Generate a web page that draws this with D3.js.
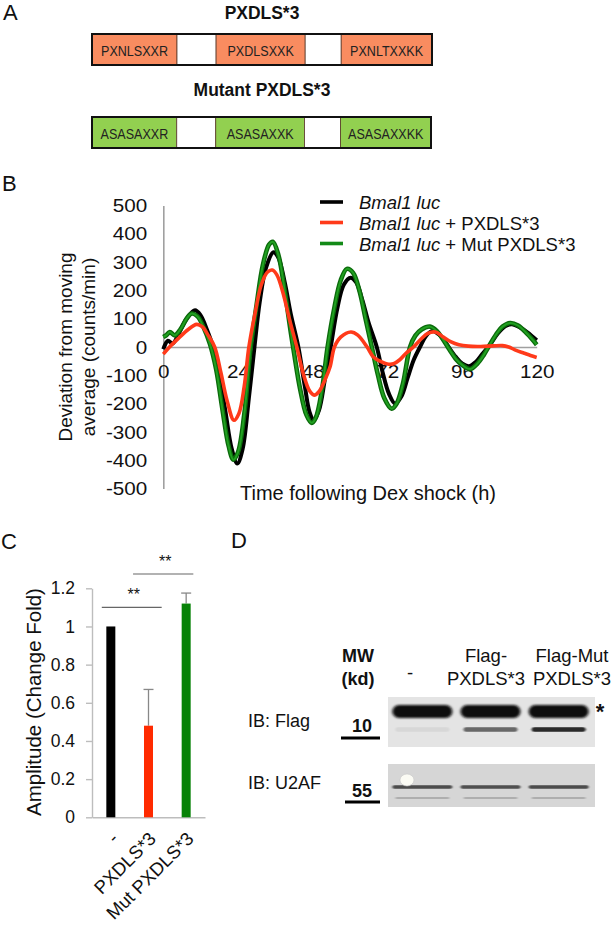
<!DOCTYPE html>
<html><head><meta charset="utf-8">
<script src="https://cdn.jsdelivr.net/npm/d3@7"></script>
<style>html,body{margin:0;padding:0;background:#fff;}svg{display:block;font-family:"Liberation Sans",Arial,sans-serif;}</style>
</head><body><svg id="c" width="612" height="927"></svg>
<script>
// ---------------- DATA ----------------
const constructTitles = ["PXDLS*3", "Mutant PXDLS*3"];
const wtSegments = ["PXNLSXXR", "", "PXDLSXXK", "", "PXNLTXXKK"];
const mutSegments = ["ASASAXXR", "", "ASASAXXK", "", "ASASAXXKK"];

const timeTicks = [0, 24, 48, 72, 96, 120];
const devTicks = [-500, -400, -300, -200, -100, 0, 100, 200, 300, 400, 500];
const seriesNames = ["Bmal1 luc", "Bmal1 luc + PXDLS*3", "Bmal1 luc + Mut PXDLS*3"];
const bmalSeries = [[0,-8],[1.5,22],[3,12],[5,48],[7.5,100],[10.2,130],[12,112],[14,62],[16,0],[18,-100],[20,-230],[22,-360],[23.8,-412],[25.5,-360],[27.5,-180],[29.3,0],[31,160],[33,280],[35.4,335],[37,315],[39,230],[41,115],[43.4,0],[45.5,-140],[47,-230],[48.3,-259],[50,-225],[52,-110],[53.8,0],[56,140],[58,220],[60.2,245],[62,228],[64,165],[66,85],[68.6,0],[70.5,-90],[72.5,-165],[74.5,-200],[76.5,-175],[78.5,-110],[80.5,-45],[82.5,0],[84.5,40],[86.5,57],[88.5,45],[90.5,20],[92,-5],[94,-35],[96,-58],[98.2,-68],[100.5,-52],[102.5,-25],[105,8],[107.5,48],[110,74],[112,80],[114.5,70],[117,52],[120,24]];
const pxdlsSeries = [[0,-25],[2,0],[5,32],[8,62],[10.7,80],[12.5,72],[14.5,40],[16.5,0],[18.5,-90],[20.5,-190],[22.7,-259],[24.3,-235],[26,-140],[27.5,0],[29.5,120],[31.5,220],[33.5,265],[35,272],[36.5,255],[38.5,190],[40.5,100],[42.9,0],[45,-95],[47,-155],[48.5,-170],[50,-158],[52,-115],[53.6,-70],[55,0],[57,35],[60.3,53],[62.5,42],[65.5,0],[67.5,-35],[70,-52],[72,-60],[74,-59],[76,-45],[78,-22],[80.4,0],[83,30],[85,48],[87.4,53],[90,35],[92.5,18],[95,8],[98,3],[102,2],[106,4],[109,5],[111,0],[113,-10],[116,-22],[118,-30],[120,-37]];
const mutSeries = [[0,35],[1,42],[2.1,53],[3.7,41],[5.5,62],[7.5,100],[9.1,118],[11,108],[13,68],[15,10],[17,-80],[19,-220],[21,-350],[22.5,-398],[24,-372],[26,-240],[28,-10],[30,150],[32,290],[34,362],[35.2,372],[37,325],[39,200],[41,50],[42,-20],[44,-150],[46,-240],[47.7,-268],[49,-250],[51,-150],[52.8,0],[55,140],[57,235],[59,276],[61,262],[63,200],[65,100],[67,0],[69,-100],[71,-180],[73.4,-218],[75,-200],[77,-130],[79.3,0],[81,40],[83,62],[85.7,72],[88,55],[90,25],[92,-10],[94,-42],[96,-63],[98.6,-78],[101,-58],[103,-28],[104.5,0],[107,45],[109,72],[111.5,85],[114,76],[117,46],[120,8]];

const ampCategories = ["-", "PXDLS*3", "Mut PXDLS*3"];
const ampValues = [1.0, 0.48, 1.12];
const ampErrors = [0, 0.19, 0.055];
const ampTicks = [0, 0.2, 0.4, 0.6, 0.8, 1, 1.2];
const sigPairs = [[0, 1], [1, 2]];
const sigLabels = ["**", "**"];
const sigLevels = [1.1, 1.275];

const laneLabels = [["-"], ["Flag-", "PXDLS*3"], ["Flag-Mut", "PXDLS*3"]];
const blotLabels = ["IB: Flag", "IB: U2AF"];
const mwMarkers = ["10", "55"];
const flagMainBand = [1, 1, 1];
const flagLowerBand = [0.06, 0.6, 0.9];
const u2afMainBand = [0.8, 0.78, 0.8];
const u2afFaintBand = [0.3, 0.3, 0.3];

// ---------------- HELPERS ----------------
const svg = d3.select("#c");
svg.append("rect").attr("width", 612).attr("height", 927).attr("fill", "#fff");
function stretch(sel, k) {
  sel.each(function () {
    const w = this.getComputedTextLength();
    d3.select(this).attr("textLength", w * k).attr("lengthAdjust", "spacingAndGlyphs");
  });
}
function panelLetter(t, x, y) {
  svg.append("text").attr("x", x).attr("y", y).attr("font-size", 22).attr("fill", "#111").text(t);
}

// ---------------- PANEL A ----------------
panelLetter("A", 3, 20);
const segFrac = [0, 0.25, 0.365, 0.627, 0.733, 1];
const boxes = [
  { title: constructTitles[0], segs: wtSegments, fill: "#F98C60", ty: 13, y0: 34, y1: 65, x0: 92, x1: 432 },
  { title: constructTitles[1], segs: mutSegments, fill: "#92D050", ty: 90, y0: 117, y1: 148, x0: 92, x1: 431 }
];
boxes.forEach(b => {
  const sx = d3.scaleLinear().domain([0, 1]).range([b.x0, b.x1]);
  const tt = svg.append("text").attr("x", 262).attr("y", b.ty).attr("text-anchor", "middle")
    .attr("dominant-baseline", "central").attr("font-weight", "bold").attr("font-size", 18)
    .attr("fill", "#111").text(b.title);
  stretch(tt, 0.97);
  const g = svg.append("g");
  b.segs.forEach((s, i) => {
    g.append("rect").attr("x", sx(segFrac[i])).attr("y", b.y0)
      .attr("width", sx(segFrac[i + 1]) - sx(segFrac[i])).attr("height", b.y1 - b.y0)
      .attr("fill", s ? b.fill : "#fff").attr("stroke", "#5a3a2a").attr("stroke-width", 0.8);
    if (s) {
      const t = g.append("text").attr("x", (sx(segFrac[i]) + sx(segFrac[i + 1])) / 2)
        .attr("y", (b.y0 + b.y1) / 2 + 1).attr("text-anchor", "middle").attr("dominant-baseline", "central")
        .attr("font-size", 15.5).attr("fill", "#222").text(s);
      stretch(t, 0.81);
    }
  });
  g.append("rect").attr("x", b.x0).attr("y", b.y0).attr("width", b.x1 - b.x0).attr("height", b.y1 - b.y0)
    .attr("fill", "none").attr("stroke", "#111").attr("stroke-width", 2);
});

// ---------------- PANEL B ----------------
panelLetter("B", 2, 191);
const xB = d3.scaleLinear().domain([0, 120]).range([163.3, 536.7]);
const yB = d3.scaleLinear().domain([-500, 500]).range([488.5, 205.5]);
const gB = svg.append("g");
const yAx = gB.append("g").attr("transform", `translate(${xB(0)},0)`)
  .call(d3.axisLeft(yB).tickValues(devTicks).tickSize(0).tickSizeOuter(0).tickPadding(0));
yAx.select(".domain").attr("stroke", "#a0a0a0").attr("stroke-width", 1.6);
yAx.selectAll("text").attr("font-size", 17.5).attr("fill", "#111").attr("font-family", "Liberation Sans, Arial")
  .attr("x", -16).attr("dy", "0.35em").text(d => d);
stretch(yAx.selectAll("text"), 1.18);
const xAx = gB.append("g").attr("transform", `translate(0,${yB(0)})`)
  .call(d3.axisBottom(xB).tickValues(timeTicks).tickSize(0).tickSizeOuter(0).tickPadding(19));
xAx.select(".domain").attr("stroke", "#a0a0a0").attr("stroke-width", 1.6);
xAx.selectAll("text").attr("font-size", 17.5).attr("fill", "#111").attr("font-family", "Liberation Sans, Arial");
stretch(xAx.selectAll("text"), 1.18);

const line = d3.line().x(d => xB(d[0])).y(d => yB(d[1])).curve(d3.curveCatmullRom.alpha(0.5));
gB.append("path").datum(bmalSeries).attr("d", line).attr("fill", "none").attr("stroke", "#000").attr("stroke-width", 4).attr("stroke-linejoin", "round");
gB.append("path").datum(mutSeries).attr("d", line).attr("fill", "none").attr("stroke", "#0b6a0b").attr("stroke-width", 4.6).attr("stroke-linejoin", "round");
gB.append("path").datum(mutSeries).attr("d", line).attr("fill", "none").attr("stroke", "#21a021").attr("stroke-width", 2).attr("stroke-linejoin", "round");
gB.append("path").datum(pxdlsSeries).attr("d", line).attr("fill", "none").attr("stroke", "#ff3a1a").attr("stroke-width", 3.6).attr("stroke-linejoin", "round");

// legend
const legColors = ["#000", "#ff3a1a", "#138a17"];
const legY = [202, 222.5, 243.5];
seriesNames.forEach((n, i) => {
  gB.append("line").attr("x1", 320).attr("x2", 343).attr("y1", legY[i]).attr("y2", legY[i])
    .attr("stroke", legColors[i]).attr("stroke-width", 3.6);
  const t = gB.append("text").attr("x", 359).attr("y", legY[i]).attr("dominant-baseline", "central")
    .attr("font-size", 18.5).attr("fill", "#111");
  const parts = n.split(" + ");
  t.append("tspan").attr("font-style", "italic").text(parts[0]);
  if (parts[1]) t.append("tspan").text(" + " + parts[1]);
});
// axis titles
[["Deviation from moving", 65], ["average (counts/min)", 88]].forEach(([s, x]) => {
  gB.append("text").attr("transform", `translate(${x},347) rotate(-90)`).attr("text-anchor", "middle")
    .attr("dominant-baseline", "central").attr("font-size", 19).attr("fill", "#111").text(s);
});
gB.append("text").attr("x", 368).attr("y", 493).attr("text-anchor", "middle").attr("dominant-baseline", "central")
  .attr("font-size", 20).attr("fill", "#111").text("Time following Dex shock (h)");

// ---------------- PANEL C ----------------
panelLetter("C", 1, 549);
const yC = d3.scaleLinear().domain([0, 1.2]).range([817.3, 588.3]);
const xC = d3.scaleBand().domain(ampCategories).range([92, 205]).padding(0);
const gC = svg.append("g");
const yAxC = gC.append("g").attr("transform", "translate(92,0)")
  .call(d3.axisLeft(yC).tickValues(ampTicks).tickSize(6).tickSizeOuter(0).tickPadding(11).tickFormat(d3.format("~g")));
yAxC.selectAll(".domain,line").attr("stroke", "#bdbdbd").attr("stroke-width", 1.4);
yAxC.selectAll("text").attr("font-size", 17.5).attr("fill", "#111").attr("font-family", "Liberation Sans, Arial");
const xAxC = gC.append("g").attr("transform", `translate(0,${yC(0)})`)
  .call(d3.axisBottom(xC).tickSize(0).tickSizeOuter(0).tickPadding(0));
xAxC.select(".domain").attr("stroke", "#bdbdbd").attr("stroke-width", 1.4);
xAxC.selectAll("text").attr("font-size", 18.5).attr("fill", "#111").attr("font-family", "Liberation Sans, Arial")
  .attr("text-anchor", "end").attr("y", 0).attr("dy", "0.35em")
  .attr("transform", "translate(4,18) rotate(-45)");
const barColors = ["#000", "#ff2a00", "#078207"];
const bw = 9;
ampCategories.forEach((c, i) => {
  const cx = xC(c) + xC.bandwidth() / 2;
  if (ampErrors[i] > 0) {
    gC.append("line").attr("x1", cx).attr("x2", cx).attr("y1", yC(ampValues[i])).attr("y2", yC(ampValues[i] + ampErrors[i]))
      .attr("stroke", "#888").attr("stroke-width", 1.3);
    gC.append("line").attr("x1", cx - 5).attr("x2", cx + 5).attr("y1", yC(ampValues[i] + ampErrors[i])).attr("y2", yC(ampValues[i] + ampErrors[i]))
      .attr("stroke", "#888").attr("stroke-width", 1.3);
  }
  gC.append("rect").attr("x", cx - bw / 2).attr("y", yC(ampValues[i])).attr("width", bw)
    .attr("height", yC(0) - yC(ampValues[i])).attr("fill", barColors[i]);
});
const step = xC.step();
sigPairs.forEach((p, i) => {
  const x1 = xC(ampCategories[p[0]]) + (i === 0 ? 0.26 : 0.09) * step;
  const x2 = xC(ampCategories[p[1]]) + (i === 0 ? 0.85 : 0.69) * step;
  gC.append("line").attr("x1", x1).attr("x2", x2).attr("y1", yC(sigLevels[i])).attr("y2", yC(sigLevels[i]))
    .attr("stroke", "#666").attr("stroke-width", 1.1);
  gC.append("text").attr("x", (x1 + x2) / 2 + 2).attr("y", yC(sigLevels[i]) - 7).attr("text-anchor", "middle")
    .attr("font-size", 16).attr("fill", "#111").text(sigLabels[i]);
});
gC.append("text").attr("transform", "translate(33,702) rotate(-90)").attr("text-anchor", "middle")
  .attr("dominant-baseline", "central").attr("font-size", 20.5).attr("fill", "#111").text("Amplitude (Change Fold)");

// ---------------- PANEL D ----------------
panelLetter("D", 231, 548);
const gD = svg.append("g");
const defs = svg.append("defs");
defs.append("filter").attr("id", "blur1").attr("x", "-20%").attr("y", "-100%").attr("width", "140%").attr("height", "300%")
  .append("feGaussianBlur").attr("stdDeviation", "1.6 1.1");
defs.append("filter").attr("id", "blur2").attr("x", "-20%").attr("y", "-200%").attr("width", "140%").attr("height", "500%")
  .append("feGaussianBlur").attr("stdDeviation", "1.2 0.7");
const lanes = d3.scaleBand().domain([0, 1, 2]).range([391, 590]).paddingInner(0.12).paddingOuter(0.02);
const laneX = [410, 486, 572];
laneLabels.forEach((l, i) => {
  l.forEach((s, j) => {
    gD.append("text").attr("x", laneX[i]).attr("y", l.length === 1 ? 672 : 655 + j * 23).attr("text-anchor", "middle")
      .attr("dominant-baseline", "central").attr("font-size", 18.5).attr("fill", "#111").text(s);
  });
});
gD.append("text").attr("x", 358).attr("y", 656).attr("text-anchor", "middle").attr("dominant-baseline", "central")
  .attr("font-size", 18).attr("font-weight", "bold").attr("fill", "#111").text("MW");
gD.append("text").attr("x", 358).attr("y", 679).attr("text-anchor", "middle").attr("dominant-baseline", "central")
  .attr("font-size", 18).attr("font-weight", "bold").attr("fill", "#111").text("(kd)");
// blots
const blots = [
  { y0: 697, y1: 747, fill: "#e4e4e4", main: flagMainBand, mainY: 711.5, mainH: 13, mainC: "#0a0a0a",
    low: flagLowerBand, lowY: 729.5, lowH: 4.5, lowC: "#151515", label: blotLabels[0], ly: 721, mw: mwMarkers[0], mwY: 726, mwLine: [341, 380, 738] },
  { y0: 764, y1: 807, fill: "#d6d6d6", main: u2afMainBand, mainY: 787, mainH: 3.6, mainC: "#2a2a2a",
    low: u2afFaintBand, lowY: 798, lowH: 2.2, lowC: "#555", label: blotLabels[1], ly: 783, mw: mwMarkers[1], mwY: 791, mwLine: [345, 380, 802] }
];
blots.forEach((b, bi) => {
  gD.append("rect").attr("x", 388).attr("y", b.y0).attr("width", 207).attr("height", b.y1 - b.y0).attr("fill", b.fill);
  [0, 1, 2].forEach(i => {
    const x0 = lanes(i), w = lanes.bandwidth();
    gD.append("rect").attr("x", x0).attr("y", b.mainY - b.mainH / 2).attr("width", w).attr("height", b.mainH)
      .attr("rx", b.mainH / 2).attr("fill", b.mainC).attr("opacity", b.main[i]).attr("filter", bi === 0 ? "url(#blur1)" : "url(#blur2)");
    gD.append("rect").attr("x", x0 + 3).attr("y", b.lowY - b.lowH / 2).attr("width", w - 6).attr("height", b.lowH)
      .attr("rx", b.lowH / 2).attr("fill", b.lowC).attr("opacity", b.low[i]).attr("filter", "url(#blur2)");
  });
  gD.append("text").attr("x", 248).attr("y", b.ly).attr("dominant-baseline", "central").attr("font-size", 18)
    .attr("fill", "#111").text(b.label);
  gD.append("text").attr("x", 362).attr("y", b.mwY).attr("text-anchor", "middle").attr("dominant-baseline", "central")
    .attr("font-size", 18).attr("font-weight", "bold").attr("fill", "#111").text(b.mw);
  gD.append("line").attr("x1", b.mwLine[0]).attr("x2", b.mwLine[1]).attr("y1", b.mwLine[2]).attr("y2", b.mwLine[2])
    .attr("stroke", "#000").attr("stroke-width", 3);
});
gD.append("ellipse").attr("cx", 407).attr("cy", 780).attr("rx", 7).attr("ry", 6).attr("fill", "#fbfbf4").attr("stroke", "#c8c8c8").attr("stroke-width", 0.6);
gD.append("text").attr("x", 600).attr("y", 711).attr("text-anchor", "middle").attr("dominant-baseline", "central")
  .attr("font-size", 22).attr("font-weight", "bold").attr("fill", "#111").text("*");
</script></body></html>
